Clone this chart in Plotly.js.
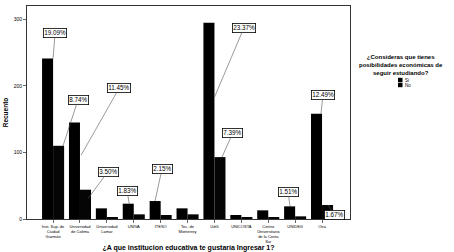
<!DOCTYPE html>
<html>
<head>
<meta charset="utf-8">
<script src="https://cdn.plot.ly/plotly-3.0.1.min.js"></script>
<style>html,body{margin:0;padding:0;background:#fff;}#chart{width:454px;height:252px;}</style>
</head>
<body>
<div id="chart"></div>
<script>
// ---- data ----
const categories = [
  "Inst. Sup. de<br>Ciudad<br>Guzmán",
  "Universidad<br>de Colima",
  "Universidad<br>Lamar",
  "UNIVA",
  "ITESO",
  "Tec. de<br>Monterrey",
  "UdG",
  "UNICOSTA",
  "Centro<br>Universitario<br>de la Costa<br>Sur",
  "UNIDEG",
  "Otra"
];
const valuesSi = [241, 145, 16, 23, 27, 16, 295, 6, 13, 19, 158];
const valuesNo = [110, 44, 3, 7, 6, 7, 93, 3, 3, 4, 21];
const yTickVals = [0, 100, 200, 300];
const yTickText = ["0", "100", "200", "300"];
const pctLabels = ["19.09%", "8.74%", "11.45%", "3.50%", "1.83%", "2.15%", "23.37%", "7.39%", "1.51%", "12.49%", "1.67%"];
const pctCategory = [0, 0, 1, 1, 3, 4, 6, 6, 9, 10, 10];
const pctSeries = ["Si", "No", "Si", "No", "Si", "Si", "Si", "No", "Si", "Si", "No"];
const seriesNames = ["Sí", "No"];

// ---- label placement (layout only) ----
// [x offset from category centre, fraction of bar height, ax px, ay px]
const labelPlacement = [
  [0.00, 1.00, 2, -26],
  [0.37, 1.00, 15, -46],
  [0.04, 0.66, 38, -67],
  [0.30, 0.70, 20, -27],
  [-0.17, 1.00, -2, -12.5],
  [-0.21, 1.00, 7, -32],
  [0.00, 0.62, 29.5, -69.5],
  [0.28, 1.00, 11, -24.5],
  [-0.19, 1.00, -2, -14.5],
  [-0.04, 1.00, 2, -18.5],
  [0.22, 1.00, 7, 10]
];

const xIdx = categories.map((c, i) => i);

const traces = [
  {type: "bar", name: seriesNames[0], x: xIdx, y: valuesSi,
   marker: {color: "#000000", line: {width: 0}}, hoverinfo: "skip"},
  {type: "bar", name: seriesNames[1], x: xIdx, y: valuesNo,
   marker: {color: "#050505", line: {width: 0}}, hoverinfo: "skip"}
];

const annotations = pctLabels.map((t, i) => {
  const c = pctCategory[i];
  const v = pctSeries[i] === "Si" ? valuesSi[c] : valuesNo[c];
  const p = labelPlacement[i];
  return {
    x: c + p[0], y: v * p[1], xref: "x", yref: "y",
    text: t, showarrow: true, arrowhead: 0, arrowwidth: 0.6, arrowcolor: "#555",
    ax: p[2], ay: p[3],
    bgcolor: "#ffffff", bordercolor: "#000", borderwidth: 0.8, borderpad: 0.5,
    font: {family: "Liberation Sans, Arial", size: 6.3, color: "#000"}
  };
});

// legend (manual, small)
annotations.push({
  xref: "paper", yref: "paper", x: (401 - 27) / 323, y: 1.0 - (52 - 6) / 213, xanchor: "center", yanchor: "top",
  text: "<b>¿Consideras que tienes<br>posibilidades económicas de<br>seguir estudiando?</b>",
  showarrow: false, align: "center",
  font: {family: "Liberation Sans, Arial", size: 6, color: "#000"}
});
const legendY = [80, 85];
seriesNames.forEach((n, i) => {
  annotations.push({
    xref: "paper", yref: "paper",
    x: (403 - 27) / 323, y: (219 - legendY[i]) / 213, xanchor: "left", yanchor: "middle",
    text: n, showarrow: false,
    font: {family: "Liberation Sans, Arial", size: 4.5, color: "#000"}
  });
});
const shapes = legendY.map(yy => ({
  type: "rect", xref: "paper", yref: "paper",
  x0: (398 - 27) / 323, x1: (402.5 - 27) / 323,
  y0: (219 - yy - 2.2) / 213, y1: (219 - yy + 2.2) / 213,
  fillcolor: "#000", line: {width: 0}
}));

const layout = {
  width: 454, height: 252,
  margin: {l: 27, r: 104, t: 6, b: 33, pad: 0},
  paper_bgcolor: "#fff", plot_bgcolor: "#fff",
  barmode: "group", bargap: 0.18, bargroupgap: 0,
  showlegend: false,
  font: {family: "Liberation Sans, Arial", color: "#000"},
  xaxis: {
    range: [-0.97, 11.04], tickvals: xIdx, ticktext: categories,
    ticks: "outside", ticklen: 3, tickwidth: 0.6, tickcolor: "#000",
    tickfont: {size: 4, color: "#000"}, tickangle: 0,
    showline: true, linecolor: "#333", linewidth: 1, mirror: true,
    showgrid: false, zeroline: false,
    title: {text: "<b>¿A que institucion educativa te gustaría Ingresar 1?</b>", font: {size: 7, color: "#000"}, standoff: 1}
  },
  yaxis: {
    range: [0, 320], tickvals: yTickVals, ticktext: yTickText,
    ticks: "outside", ticklen: 3, tickwidth: 0.6, tickcolor: "#000",
    tickfont: {size: 5, color: "#000"},
    showline: true, linecolor: "#333", linewidth: 1, mirror: true,
    showgrid: false, zeroline: false,
    title: {text: "<b>Recuento</b>", font: {size: 6.5, color: "#000"}, standoff: 4}
  },
  annotations: annotations,
  shapes: shapes
};

Plotly.newPlot("chart", traces, layout, {staticPlot: true, displayModeBar: false});
</script>
</body>
</html>
